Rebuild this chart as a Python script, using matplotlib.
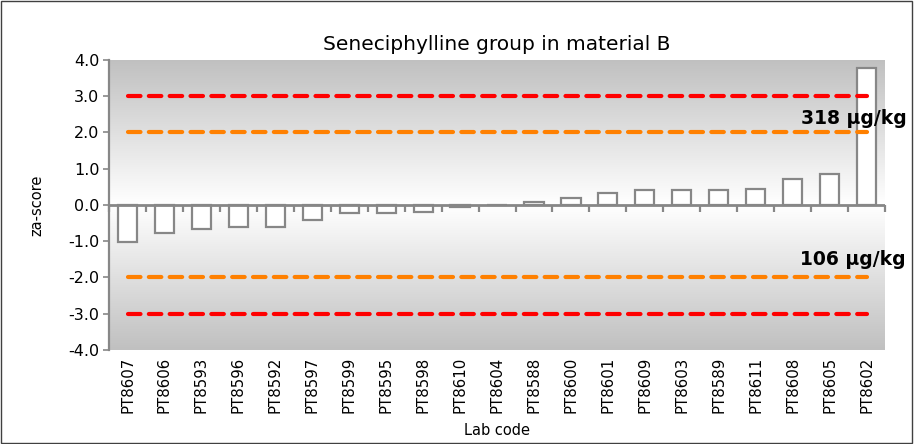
import matplotlib
matplotlib.use('Agg')
import matplotlib.pyplot as plt
import numpy as np
from matplotlib.patches import Rectangle

labs = ['PT8607', 'PT8606', 'PT8593', 'PT8596', 'PT8592', 'PT8597', 'PT8599',
        'PT8595', 'PT8598', 'PT8610', 'PT8604', 'PT8588', 'PT8600', 'PT8601',
        'PT8609', 'PT8603', 'PT8589', 'PT8611', 'PT8608', 'PT8605', 'PT8602']
za = [-1.02, -0.78, -0.67, -0.62, -0.62, -0.43, -0.22, -0.22, -0.19, -0.07,
      -0.01, 0.08, 0.18, 0.33, 0.42, 0.42, 0.42, 0.44, 0.71, 0.86, 3.78]
upper_conc = '318 µg/kg'
lower_conc = '106 µg/kg'

plt.rcParams['axes.unicode_minus'] = False
plt.rcParams['font.family'] = 'DejaVu Sans'

fig = plt.figure(figsize=(9.14, 4.44), dpi=100)
ax = fig.add_axes([0.1193, 0.2117, 0.849, 0.654])

x = np.arange(len(labs))

# background gradient: gray at top/bottom, white in the middle
grad = np.abs(np.linspace(1, -1, 256))[:, None]
ax.imshow(grad, extent=[-0.5, len(labs) - 0.5, -4, 4], aspect='auto',
          cmap=matplotlib.colors.LinearSegmentedColormap.from_list('g', ['#ffffff', '#c0c0c0']),
          zorder=0, interpolation='bicubic')

ax.bar(x, za, width=0.52, color='white', edgecolor='#878787', linewidth=1.6, zorder=2)
ax.axhline(0, color='#878787', linewidth=2, zorder=2.5)

for lvl, col in [(3, '#ff0000'), (2, '#ff8000'), (-2, '#ff8000'), (-3, '#ff0000')]:
    ax.plot(x, [lvl] * len(x), color=col, linestyle=(0, (3, 2)), linewidth=3,
            dash_capstyle='round', zorder=3)

ax.text(len(labs) + 0.1, 2.38, upper_conc, fontsize=13.5, fontweight='bold', ha='right',
        va='center', zorder=4, clip_on=False)
ax.text(len(labs) + 0.05, -1.5, lower_conc, fontsize=13.5, fontweight='bold', ha='right',
        va='center', zorder=4, clip_on=False)

ax.set_xlim(-0.5, len(labs) - 0.5)
ax.set_ylim(-4, 4)
ax.set_yticks(np.arange(-4, 4.1, 1))
ax.set_yticklabels(['%.1f' % v for v in np.arange(-4, 4.1, 1)], fontsize=11.5)
ax.set_xticks(x)
ax.set_xticklabels(labs, rotation=90, fontsize=10.8)
ax.tick_params(axis='x', length=0, pad=5)
ax.tick_params(axis='y', color='#878787', length=4, width=1.2, pad=3)

for s in ['top', 'right', 'bottom']:
    ax.spines[s].set_visible(False)
ax.spines['left'].set_color('#878787')
ax.spines['left'].set_linewidth(1.6)

# category boundary ticks hanging under the zero line
sec = ax.secondary_xaxis(0.5)
sec.set_xticks(np.arange(-0.5, len(labs), 1))
sec.set_xticklabels([])
sec.tick_params(length=5, width=1.6, color='#878787', direction='in')
sec.spines['bottom'].set_visible(False)
sec.spines['top'].set_visible(False)

ax.set_title('Seneciphylline group in material B', fontsize=14.5, pad=7)
ax.set_ylabel('za-score', fontsize=10.5, labelpad=17)
ax.set_xlabel('Lab code', fontsize=10.5, labelpad=7)

fig.patches.append(Rectangle((0.001, 0.002), 0.997, 0.996, transform=fig.transFigure,
                             fill=False, edgecolor='#404040', linewidth=1))

fig.savefig('out.png', dpi=100)
